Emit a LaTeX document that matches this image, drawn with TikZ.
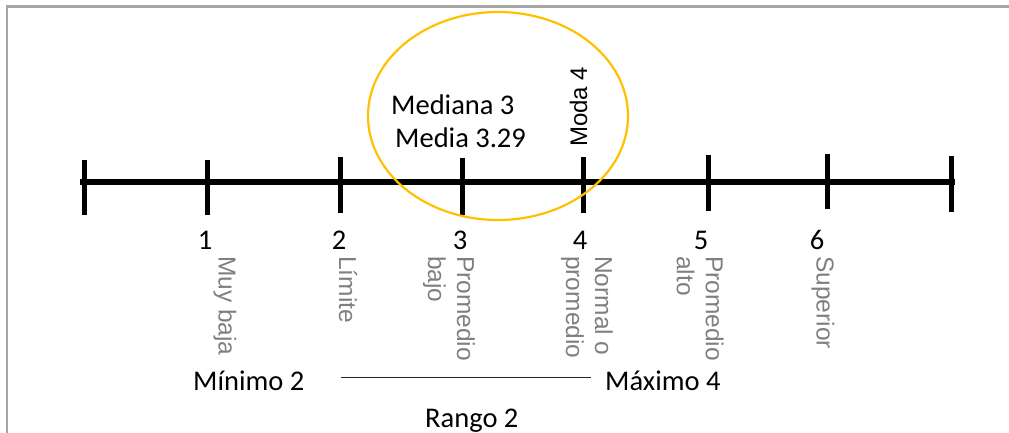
\documentclass[tikz,border=0pt]{standalone}
\usepackage{fontspec}
\usetikzlibrary{shapes.geometric}
\setmainfont{Carlito}
\newfontfamily\arialfont{Liberation Sans}
\definecolor{framegray}{HTML}{A6A6A6}
\definecolor{labelgray}{HTML}{7F7F7F}
\definecolor{ringgold}{HTML}{FFC000}
\begin{document}
\begin{tikzpicture}[x=1pt,y=-1pt,
  axisline/.style={line width=6pt, black},
  tickmark/.style={line width=5pt, black},
  num/.style={font=\fontsize{28.5}{34}\selectfont, anchor=base, inner sep=0pt},
  stat/.style={font=\fontsize{28.5}{34}\selectfont, anchor=base west, inner sep=0pt},
  category/.style={font=\arialfont\fontsize{24.5}{29}\selectfont, text=labelgray,
    rotate=-90, anchor=west, inner sep=0pt, align=left},
  ring/.style={draw=ringgold, line width=2.2pt},
  rangeline/.style={line width=1.3pt, black!85}]
  \useasboundingbox (0,0) rectangle (1009,433);
  % frame
  \draw[framegray, line width=2.3pt] (7,433) -- (7,6.5) -- (1009,6.5);

  % axis with its tick marks
  \coordinate (axL) at (80,182);
  \coordinate (axR) at (955,182);
  \draw[axisline] (axL) -- (axR);
  \foreach \x/\t/\b in {84/160/215, 207/160/215, 340/157/213, 462/158/215,
                        583/157/213, 708/155/211, 827/154/209, 951/156/212}
    \draw[tickmark] (\x,\t) -- (\x,\b);

  % scale values
  \node[num] (n1) at (205,249) {1};
  \node[num] (n2) at (339,249) {2};
  \node[num] (n3) at (460,249) {3};
  \node[num] (n4) at (580,249) {4};
  \node[num] (n5) at (701,249) {5};
  \node[num] (n6) at (817,249) {6};

  % category names
  \node[category] (c1) at (225,256) {Muy baja};
  \node[category] (c2) at (348,256) {Límite};
  \node[category] (c3) at (449,256) {Promedio\\bajo};
  \node[category] (c4) at (587,256) {Normal o\\promedio};
  \node[category] (c5) at (700,256) {Promedio\\alto};
  \node[category] (c6) at (823,256) {Superior};

  % central tendency
  \node[stat] (mediana) at (391,115) {Mediana 3};
  \node[stat] (media) at (395,147) {Media 3.29};
  \node[font=\arialfont\fontsize{24}{29}\selectfont, rotate=90, anchor=base west,
        inner sep=0pt] (moda) at (587,147) {Moda 4};
  \node[ring, ellipse, minimum width=260pt, minimum height=208pt, inner sep=0pt]
    (circ) at (498,116) {};

  % range
  \node[stat] (minimo) at (193,390) {Mínimo 2};
  \node[stat] (maximo) at (605,390) {Máximo 4};
  \node[stat] (rango) at (425,427) {Rango 2};
  \coordinate (rs) at (341,377.5);
  \coordinate (re) at (591,377.5);
  \draw[rangeline] (rs) -- (re);
\end{tikzpicture}
\end{document}
